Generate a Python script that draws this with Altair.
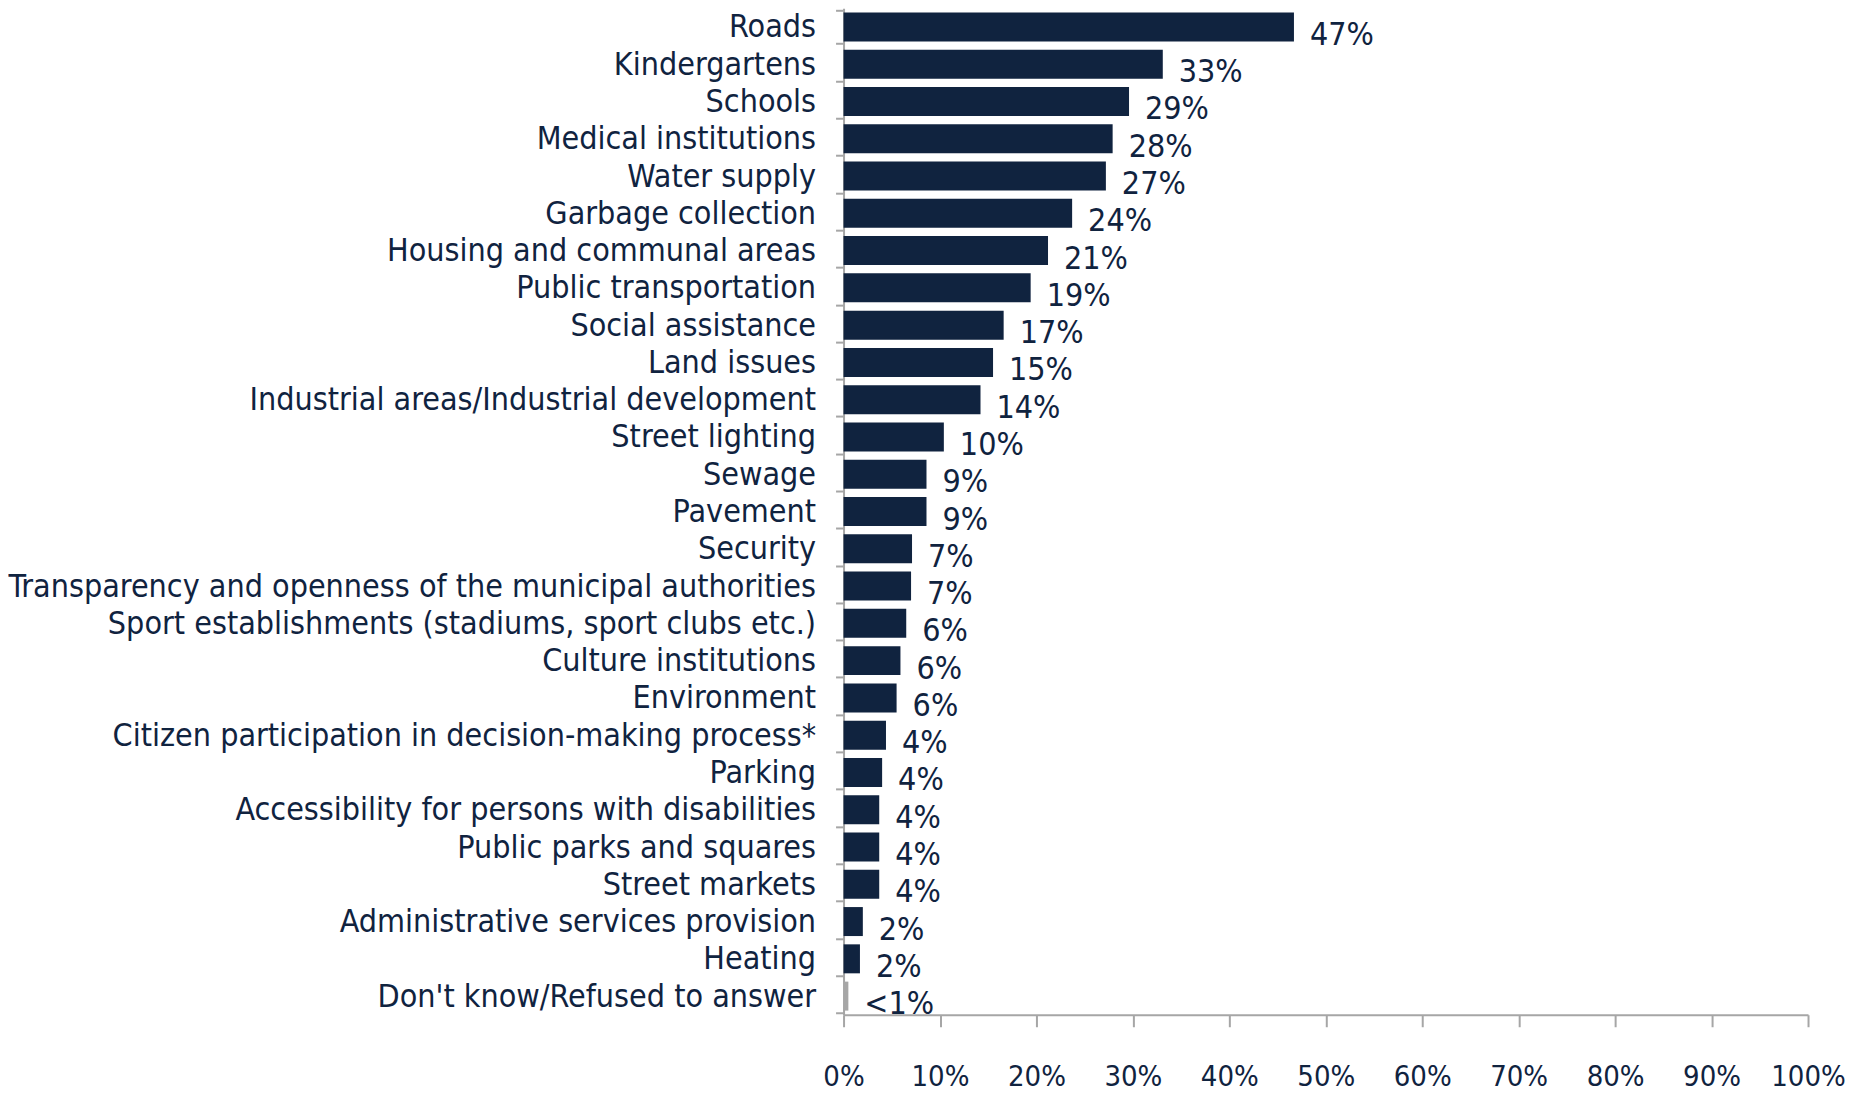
import altair as alt
import pandas as pd

categories = [
    "Roads", "Kindergartens", "Schools", "Medical institutions", "Water supply",
    "Garbage collection", "Housing and communal areas", "Public transportation",
    "Social assistance", "Land issues", "Industrial areas/Industrial development",
    "Street lighting", "Sewage", "Pavement", "Security",
    "Transparency and openness of the municipal authorities",
    "Sport establishments (stadiums, sport clubs etc.)", "Culture institutions",
    "Environment", "Citizen participation in decision-making process*", "Parking",
    "Accessibility for persons with disabilities", "Public parks and squares",
    "Street markets", "Administrative services provision", "Heating",
    "Don't know/Refused to answer",
]
values = [46.7, 33.1, 29.6, 27.9, 27.2, 23.7, 21.2, 19.4, 16.6, 15.5, 14.2, 10.4,
          8.6, 8.6, 7.1, 7.0, 6.5, 5.9, 5.5, 4.4, 4.0, 3.7, 3.7, 3.7, 2.0, 1.7, 0.5]
labels = ["47%", "33%", "29%", "28%", "27%", "24%", "21%", "19%", "17%", "15%", "14%",
          "10%", "9%", "9%", "7%", "7%", "6%", "6%", "6%", "4%", "4%", "4%", "4%",
          "4%", "2%", "2%", "<1%"]
ticks = [0, 10, 20, 30, 40, 50, 60, 70, 80, 90, 100]
groups = ["main"] * 26 + ["dk"]

df = pd.DataFrame({"cat": categories, "val": values, "lab": labels, "grp": groups})

NAVY = "#10233f"
GREY = "#a6a6a6"
FONT = "DejaVu Sans Condensed, DejaVu Sans, sans-serif"

y_enc = alt.Y("cat:N", sort=categories, title=None,
              axis=alt.Axis(tickBand="extent", labelFont=FONT, labelFontSize=32,
                            labelColor=NAVY, labelPadding=20, tickSize=8,
                            tickColor=GREY, domainColor=GREY, domainWidth=2,
                            tickWidth=2, labelLimit=1000))
x_enc = alt.X("val:Q", scale=alt.Scale(domain=[0, 100]), title=None,
              axis=alt.Axis(values=ticks, labelExpr="datum.value + '%'", grid=False,
                            labelOverlap=False, labelFlush=False,
                            labelFont=FONT, labelFontSize=29, labelColor=NAVY,
                            labelPadding=36, tickSize=12, tickColor=GREY,
                            domainColor=GREY, domainWidth=2, tickWidth=2))

bars = alt.Chart(df).mark_bar(size=29).encode(
    y=y_enc, x=x_enc,
    color=alt.Color("grp:N", scale=alt.Scale(domain=["main", "dk"], range=[NAVY, GREY]),
                    legend=None),
)
text = alt.Chart(df).mark_text(align="left", baseline="middle", dx=16, dy=8,
                               font=FONT, fontSize=32, color=NAVY).encode(
    y=alt.Y("cat:N", sort=categories), x="val:Q", text="lab:N")

chart = (bars + text).properties(
    width=965, height=1007,
    padding={"left": 836, "top": 0, "right": 40, "bottom": 80},
    autosize=alt.AutoSizeParams(type="none"),
).configure_view(stroke=None)
chart.save("out.html", embed_options={"renderer": "svg", "actions": False})
